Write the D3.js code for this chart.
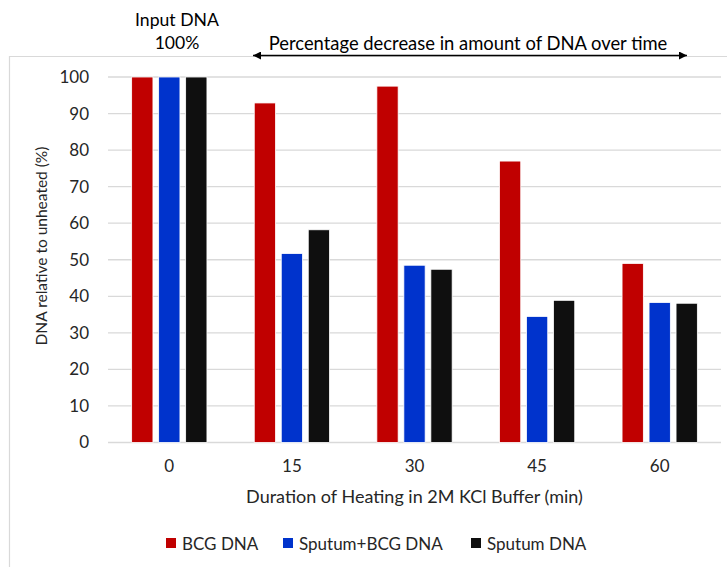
<!DOCTYPE html>
<html>
<head>
<meta charset="utf-8">
<script src="https://cdn.jsdelivr.net/npm/d3@7"></script>
<style>
  body { margin: 0; background: #fff; }
  svg { display: block; font-family: Lato, "Open Sans", sans-serif; }
</style>
</head>
<body>
<svg width="727" height="567"></svg>
<script>
const svg = d3.select('svg');

const times = ['0', '15', '30', '45', '60'];
const seriesNames = ['BCG DNA', 'Sputum+BCG DNA', 'Sputum DNA'];
const bcg = [100, 92.9, 97.5, 77.0, 49.0];
const sputumBcg = [100, 51.7, 48.5, 34.5, 38.3];
const sputum = [100, 58.2, 47.4, 38.9, 38.1];
const yTicks = [0, 10, 20, 30, 40, 50, 60, 70, 80, 90, 100];
const colors = ['#c00000', '#0033cc', '#0f0f0f'];

const data = times.map((t, i) => ({
    time: t,
    values: [bcg[i], sputumBcg[i], sputum[i]]
}));

const plotLeft = 108, plotRight = 721, plotTop = 77, plotBottom = 442.5;

const xScale = d3.scaleBand().domain(times).range([plotLeft, plotRight]);
const x1 = d3.scaleBand().domain(seriesNames).range([-37.65, 37.65]).paddingInner(0.211);
const yScale = d3.scaleLinear().domain([0, 100]).range([plotBottom, plotTop]);
const color = d3.scaleOrdinal().domain(seriesNames).range(colors);

// chart border
svg.append('path')
    .attr('d', 'M9.5,580V56.5H740')
    .attr('fill', 'none')
    .attr('stroke', '#d9d9d9')
    .attr('stroke-width', 1.2);

// gridlines
svg.append('g').selectAll('line').data(yTicks)
    .enter().append('line')
        .attr('x1', plotLeft).attr('x2', plotRight)
        .attr('y1', d => yScale(d)).attr('y2', d => yScale(d))
        .attr('stroke', '#d9d9d9')
        .attr('stroke-width', 1.3);

// y axis labels
const yAxis = svg.append('g')
    .attr('transform', `translate(${plotLeft - 12},0)`)
    .call(d3.axisLeft(yScale).tickValues(yTicks).tickSize(0).tickPadding(7));
yAxis.select('.domain').remove();
yAxis.selectAll('text').attr('font-size', 17).attr('fill', '#262626').attr('font-family', 'Lato, sans-serif');

// x axis labels
const xAxis = svg.append('g')
    .attr('transform', `translate(0,${plotBottom + 14.5})`)
    .call(d3.axisBottom(xScale).tickSize(0));
xAxis.select('.domain').remove();
xAxis.selectAll('text').attr('font-size', 17).attr('fill', '#262626').attr('font-family', 'Lato, sans-serif');

// bars
const groups = svg.append('g').selectAll('g').data(data)
    .enter().append('g')
        .attr('transform', d => `translate(${xScale(d.time) + xScale.bandwidth() / 2},0)`);

groups.selectAll('rect').data(d => d.values.map((v, i) => ({ name: seriesNames[i], value: v })))
    .enter().append('rect')
        .attr('x', d => x1(d.name))
        .attr('y', d => yScale(d.value))
        .attr('width', x1.bandwidth())
        .attr('height', d => yScale(0) - yScale(d.value))
        .attr('fill', d => color(d.name))
        .attr('stroke', '#fff')
        .attr('stroke-width', 0.8);

// axis titles
svg.append('text')
    .attr('transform', 'translate(47,246) rotate(-90)')
    .attr('text-anchor', 'middle')
    .attr('font-size', 15.5)
    .attr('fill', '#262626')
    .text('DNA relative to unheated (%)');

svg.append('text')
    .attr('x', (plotLeft + plotRight) / 2)
    .attr('y', 503)
    .attr('text-anchor', 'middle')
    .attr('font-size', 18)
    .attr('fill', '#262626')
    .text('Duration of Heating in 2M KCl Buffer (min)');

// annotations
svg.append('text')
    .attr('x', 177).attr('y', 26)
    .attr('text-anchor', 'middle')
    .attr('font-size', 17.6)
    .attr('fill', '#000')
    .text('Input DNA');
svg.append('text')
    .attr('x', 177).attr('y', 49)
    .attr('text-anchor', 'middle')
    .attr('font-size', 17.6)
    .attr('fill', '#000')
    .text('100%');
svg.append('text')
    .attr('x', 468).attr('y', 50)
    .attr('text-anchor', 'middle')
    .attr('font-size', 18.4)
    .attr('fill', '#000')
    .text('Percentage decrease in amount of DNA over time');

const defs = svg.append('defs');
defs.append('marker')
    .attr('id', 'head')
    .attr('viewBox', '0 0 10 10')
    .attr('refX', 10).attr('refY', 5)
    .attr('markerWidth', 10).attr('markerHeight', 8)
    .attr('markerUnits', 'userSpaceOnUse')
    .attr('orient', 'auto-start-reverse')
    .append('path').attr('d', 'M0,0L10,5L0,10Z').attr('fill', '#000');

svg.append('line')
    .attr('x1', 253).attr('x2', 687)
    .attr('y1', 55.5).attr('y2', 55.5)
    .attr('stroke', '#000')
    .attr('stroke-width', 1.3)
    .attr('marker-start', 'url(#head)')
    .attr('marker-end', 'url(#head)');

// legend
const legendX = [166, 283, 471];
const legend = svg.append('g').selectAll('g').data(seriesNames)
    .enter().append('g')
        .attr('transform', (d, i) => `translate(${legendX[i]},543)`);
legend.append('rect')
    .attr('x', 0).attr('y', -5)
    .attr('width', 10).attr('height', 10)
    .attr('fill', d => color(d));
legend.append('text')
    .attr('x', 16).attr('y', 7)
    .attr('font-size', 17)
    .attr('fill', '#262626')
    .text(d => d);
</script>
</body>
</html>
